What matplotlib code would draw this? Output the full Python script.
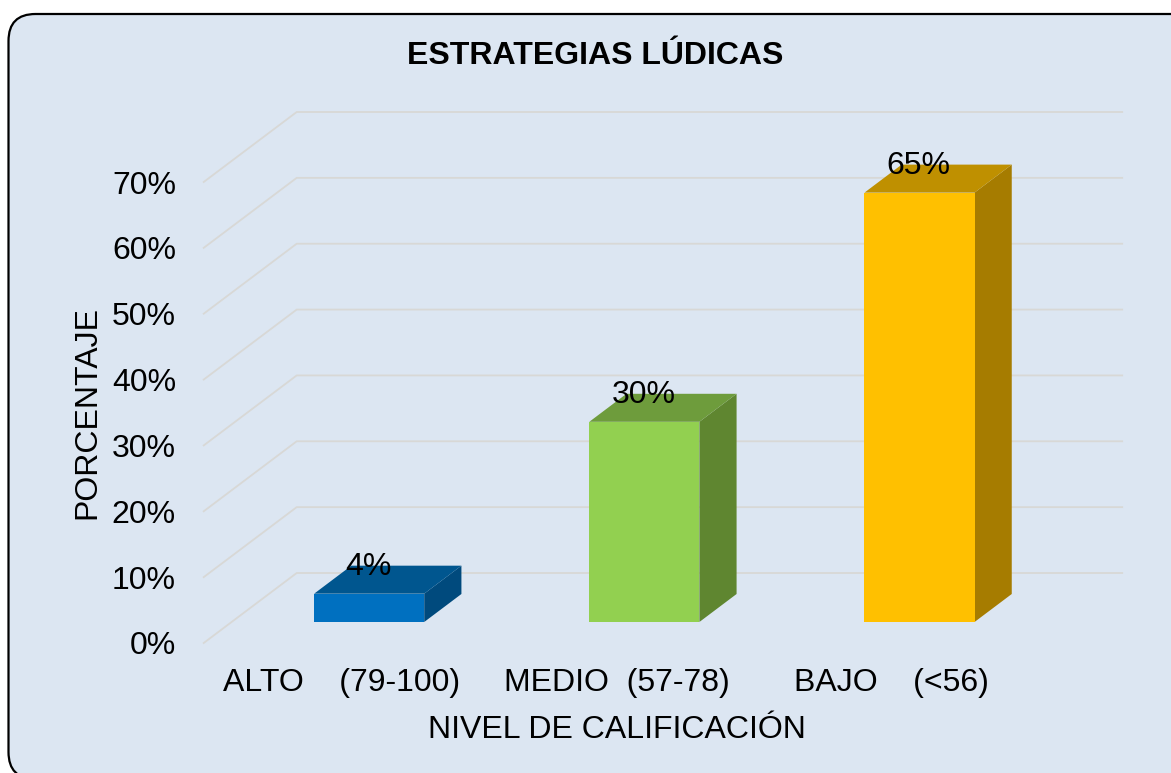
import matplotlib.pyplot as plt
from matplotlib.patches import FancyBboxPatch

plt.rcParams["font.family"] = ["Liberation Sans", "DejaVu Sans"]

categorias = ["ALTO    (79-100)", "MEDIO  (57-78)", "BAJO    (<56)"]
valores = [4.3, 30.4, 65.2]
etiquetas = ["4%", "30%", "65%"]
ticks = [0, 10, 20, 30, 40, 50, 60, 70]
frente = ["#0070C0", "#92D050", "#FFC000"]
arriba = ["#00568F", "#6E9C3C", "#BF9000"]
lado = ["#004A7D", "#5F8630", "#A67C00"]

W, H = 1171, 773
fig = plt.figure(figsize=(W / 100, H / 100), dpi=100, facecolor="white")

# rounded panel behind everything, in pixels of the figure
panel = FancyBboxPatch((8.5, -6), 1200, 765, boxstyle="round,pad=0,rounding_size=27",
                       transform=None, facecolor="#DCE6F2", edgecolor="black", linewidth=1.6,
                       zorder=-1)
fig.patches.append(panel)
panel.set_figure(fig)

ax = fig.add_axes([203.7 / W, (H - 643) / H, (1029.2 - 203.7) / W, (643 - 182) / H])
ax.patch.set_visible(False)
ax.set_xlim(-0.5, 2.5)
ax.set_ylim(0, 70)

# depth of the fake 3d box, in data units
DX = 93 / (825.5 / 3)
DY = 70 / (461 / 70)
ANCHO = 0.2


def p(x, y, d):
    return x + d * DX, y + d * DY


# back wall + side wall grid
for t in ticks:
    xs = [p(-0.5, t, 0)[0], p(-0.5, t, 1)[0], p(2.5, t, 1)[0]]
    ys = [t, t + DY, t + DY]
    ax.plot(xs, ys, color="#D8D8D6", lw=1.3, clip_on=False, zorder=1, solid_joinstyle="miter")

# bars
for i, v in enumerate(valores):
    x0, x1 = i - ANCHO, i + ANCHO
    d0, d1 = 0.3, 0.7
    cara = [p(x0, 0, d0), p(x1, 0, d0), p(x1, v, d0), p(x0, v, d0)]
    tapa = [p(x0, v, d0), p(x1, v, d0), p(x1, v, d1), p(x0, v, d1)]
    lat = [p(x1, 0, d0), p(x1, 0, d1), p(x1, v, d1), p(x1, v, d0)]
    ax.fill(*zip(*lat), color=lado[i], clip_on=False, zorder=2, lw=0)
    ax.fill(*zip(*tapa), color=arriba[i], clip_on=False, zorder=2, lw=0)
    ax.fill(*zip(*cara), color=frente[i], clip_on=False, zorder=3, lw=0)
    ax.annotate(etiquetas[i], p(i, v, d0), xytext=(-0.7, 19), textcoords="offset points",
                ha="center", va="center", fontsize=23, color="black", zorder=5,
                annotation_clip=False)

for s in ax.spines.values():
    s.set_visible(False)
ax.set_xticks(range(len(categorias)))
ax.set_xticklabels(categorias)
ax.set_yticks(ticks)
ax.set_yticklabels([str(t) + "%" for t in ticks])
ax.tick_params(axis="y", length=0, labelsize=23, pad=20)
ax.tick_params(axis="x", length=0, labelsize=23, pad=18)
ax.set_xlabel("NIVEL DE CALIFICACIÓN", fontsize=23, labelpad=12)
ax.set_ylabel("PORCENTAJE", fontsize=23, labelpad=7)

fig.text(595 / W, (H - 56) / H, "ESTRATEGIAS LÚDICAS", fontsize=23, fontweight="bold",
         ha="center", va="center")

plt.savefig("out.png", dpi=100)
